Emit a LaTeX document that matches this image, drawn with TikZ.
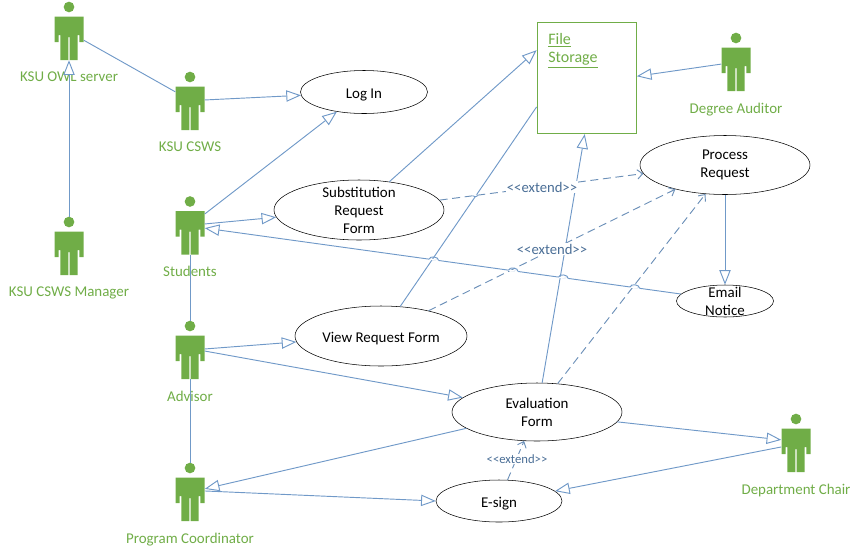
\documentclass[tikz,border=0pt]{standalone}
\usepackage{fontspec}
\setmainfont{Carlito}
\usetikzlibrary{calc,shapes,arrows.meta,positioning}
\definecolor{actorgreen}{HTML}{70AD47}
\definecolor{linkblue}{HTML}{7099C8}
\definecolor{dashblue}{HTML}{6C90B8}
\definecolor{extendblue}{HTML}{4A6E96}
\tikzset{
    usecase/.style={draw=black, ellipse, inner xsep=0pt, inner ysep=-10pt, align=center, text=black,
        font=\fontsize{11.2}{13.5}\selectfont},
    actorbox/.style={minimum width=21.75pt, minimum height=43.5pt, inner sep=0pt},
    actorlabel/.style={text=actorgreen, font=\fontsize{11.2}{13}\selectfont, inner sep=0pt},
    assoc/.style={draw=linkblue, line width=0.7pt},
    gen/.style={assoc, -{Triangle[fill=white,length=11pt,width=8.5pt]}},
    ext/.style={draw=dashblue, line width=0.7pt, dash pattern=on 6pt off 3.5pt, -{Straight Barb[length=4pt,width=7pt]}},
    extlabel/.style={text=extendblue, fill=white, inner sep=0.5pt, font=\fontsize{11}{13}\selectfont}
}
\newcommand{\lowstrut}{\rule[-3pt]{0pt}{15.4pt}}
\newcommand{\linejump}[4]{
    \draw[white, line width=1pt] ($(#1)!#3-0.01!(#2)$) -- ($(#1)!#3+0.01!(#2)$);
    \draw[#4, line width=0.7pt] ($(#1)!#3-0.01!(#2)$) to[bend right=90] ($(#1)!#3+0.01!(#2)$);
}
\begin{document}
\begin{tikzpicture}[x=0.75pt,y=-0.75pt]
    \useasboundingbox (0,0) rectangle (859,554);
    % actors
    \foreach \name/\x/\y/\txt in {owl/69/31/KSU OWL server, csws/190/101/KSU CSWS, students/190/225.5/Students,
        manager/69/246/KSU CSWS Manager, advisor/190/350/Advisor, coord/190/492/Program Coordinator,
        auditor/736/62/Degree Auditor, chair/796/443/Department Chair}
    {
        \node[actorbox] (\name) at (\x,\y) {};
        \node[actorlabel, below=8.5pt of \name] (\name label) {\txt};
        \fill[actorgreen, shift={(\name.center)}] (0,-24) circle (4pt);
        \fill[actorgreen, shift={(\name.center)}] (-14.5,-14.5) -- (-14.5,11) -- (-10.3,11) -- (-10.3,4) -- (-8.7,4)
            -- (-8.7,29) -- (-0.7,29) -- (-0.7,6) -- (0.7,6) -- (0.7,29) -- (8.7,29) -- (8.7,4) -- (10.3,4)
            -- (10.3,11) -- (14.5,11) -- (14.5,-14.5) -- cycle;
    }
    % use cases
    \node[usecase, minimum width=95.25pt, minimum height=32.25pt] (login) at (364,92) {\lowstrut Log In};
    \node[usecase, minimum width=127.5pt, minimum height=45pt] (subst) at (359,210) {Substitution\\Request\\Form};
    \node[usecase, minimum width=127.5pt, minimum height=44.25pt] (process) at (725,165) {Process\\Request};
    \node[usecase, minimum width=129pt, minimum height=45pt] (view) at (381,336) {\lowstrut View Request Form};
    \node[usecase, minimum width=72.75pt, minimum height=24pt] (email) at (725,301) {Email\\Notice};
    \node[usecase, minimum width=127.5pt, minimum height=43.5pt] (eval) at (537,412) {Evaluation\\Form};
    \node[usecase, minimum width=94.5pt, minimum height=31.5pt] (esign) at (499,501) {\lowstrut E-sign};
    \node[draw=actorgreen, line width=0.7pt, minimum width=74.5pt, minimum height=83.5pt, inner sep=0pt] (storage) at (586.7,78) {};
    \node[anchor=north west, inner sep=0pt, align=left, text=actorgreen, font=\fontsize{12}{13.5}\selectfont]
        (storage text) at (548,33) {\underline{File}\\\underline{Storage}};
    % associations
    \draw[assoc] (owl.-32) -- (csws.148);
    \draw[assoc] (students.south) -- (advisor.north);
    \draw[assoc] (advisor.south) -- (coord.north);
    \draw[assoc] (view.57) -- (storage.210);
    \draw[gen] (manager.north) -- (owl.south);
    \draw[gen] (csws.4) -- (login.183.6);
    \draw[gen] (students.38) -- (login.216.5);
    \draw[gen] (students.6) -- (subst.185);
    \draw[gen] (email.171) -- (students.-10);
    \draw[gen] (advisor.4) -- (view.184);
    \draw[gen] (advisor.-4) -- (eval.169);
    \draw[gen] (eval.193) -- (coord.12);
    \draw[gen] (coord.4) -- (esign.west);
    \draw[gen] (eval.-7) -- (chair.168);
    \draw[gen] (chair.195) -- (esign.10);
    \draw[gen] (subst.43) -- (storage.151);
    \draw[gen] (eval.80) -- (storage.268);
    \draw[gen] (auditor.188) -- (storage.2);
    \draw[gen] (process.south) -- (email.north);
    % extends
    \draw[ext] (subst.7) -- (process.186);
    \draw[ext] (view.28) -- (process.206);
    \draw[ext] (eval.54) -- (process.236);
    \draw[ext] (esign.68) -- (eval.246);
    \node[extlabel] (extend one) at (542,187) {<{}<extend>{}>};
    \node[extlabel] (extend two) at (552,249) {<{}<extend>{}>};
    \node[extlabel, font=\fontsize{9.5}{11}\selectfont] (extend three) at (517,459) {<{}<extend>{}>};
    % line jumps
    \foreach \t in {0.097,0.247,0.352,0.519} {
        \linejump{email.171}{students.-10}{\t}{linkblue}
    }
    \linejump{subst.7}{process.186}{0.176}{linkblue}
\end{tikzpicture}
\end{document}
